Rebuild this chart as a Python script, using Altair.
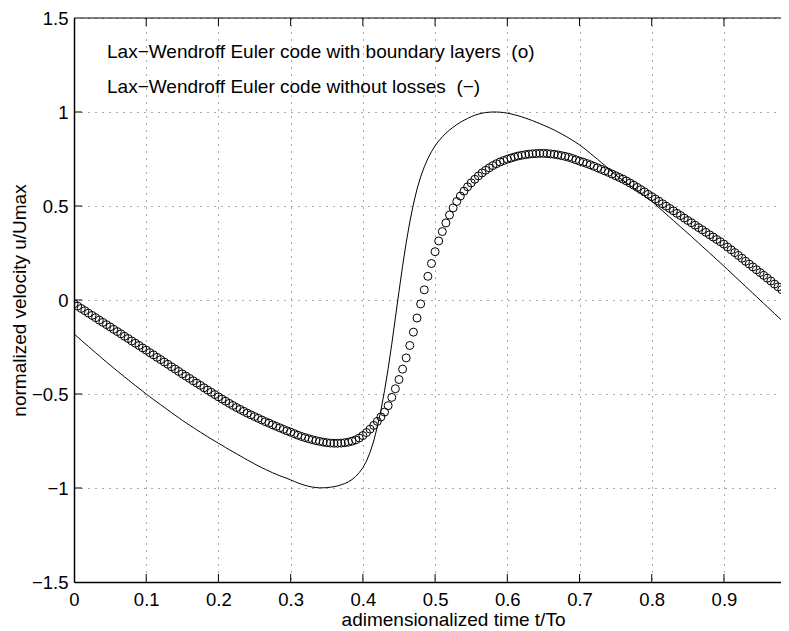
import altair as alt
import pandas as pd

# time samples t/To
t = [
    0.000, 0.005, 0.010, 0.015, 0.020, 0.025, 0.030, 0.035, 0.040, 0.045,
    0.050, 0.055, 0.060, 0.065, 0.070, 0.075, 0.080, 0.085, 0.090, 0.095,
    0.100, 0.105, 0.110, 0.115, 0.120, 0.125, 0.130, 0.135, 0.140, 0.145,
    0.150, 0.155, 0.160, 0.165, 0.170, 0.175, 0.180, 0.185, 0.190, 0.195,
    0.200, 0.205, 0.210, 0.215, 0.220, 0.225, 0.230, 0.235, 0.240, 0.245,
    0.250, 0.255, 0.260, 0.265, 0.270, 0.275, 0.280, 0.285, 0.290, 0.295,
    0.300, 0.305, 0.310, 0.315, 0.320, 0.325, 0.330, 0.335, 0.340, 0.345,
    0.350, 0.355, 0.360, 0.365, 0.370, 0.375, 0.380, 0.385, 0.390, 0.395,
    0.400, 0.405, 0.410, 0.415, 0.420, 0.425, 0.430, 0.435, 0.440, 0.445,
    0.450, 0.455, 0.460, 0.465, 0.470, 0.475, 0.480, 0.485, 0.490, 0.495,
    0.500, 0.505, 0.510, 0.515, 0.520, 0.525, 0.530, 0.535, 0.540, 0.545,
    0.550, 0.555, 0.560, 0.565, 0.570, 0.575, 0.580, 0.585, 0.590, 0.595,
    0.600, 0.605, 0.610, 0.615, 0.620, 0.625, 0.630, 0.635, 0.640, 0.645,
    0.650, 0.655, 0.660, 0.665, 0.670, 0.675, 0.680, 0.685, 0.690, 0.695,
    0.700, 0.705, 0.710, 0.715, 0.720, 0.725, 0.730, 0.735, 0.740, 0.745,
    0.750, 0.755, 0.760, 0.765, 0.770, 0.775, 0.780, 0.785, 0.790, 0.795,
    0.800, 0.805, 0.810, 0.815, 0.820, 0.825, 0.830, 0.835, 0.840, 0.845,
    0.850, 0.855, 0.860, 0.865, 0.870, 0.875, 0.880, 0.885, 0.890, 0.895,
    0.900, 0.905, 0.910, 0.915, 0.920, 0.925, 0.930, 0.935, 0.940, 0.945,
    0.950, 0.955, 0.960, 0.965, 0.970, 0.975, 0.980, 0.985,
]

# Lax-Wendroff Euler code with boundary layers (circles)
u_bl = [
    -0.020, -0.032, -0.045, -0.057, -0.070, -0.082, -0.094, -0.107, -0.119, -0.131,
    -0.143, -0.156, -0.168, -0.180, -0.193, -0.205, -0.218, -0.230, -0.242, -0.255,
    -0.267, -0.280, -0.292, -0.305, -0.317, -0.330, -0.342, -0.355, -0.367, -0.380,
    -0.393, -0.405, -0.417, -0.430, -0.442, -0.454, -0.467, -0.479, -0.491, -0.503,
    -0.515, -0.527, -0.538, -0.550, -0.561, -0.572, -0.582, -0.592, -0.602, -0.611,
    -0.620, -0.629, -0.638, -0.647, -0.655, -0.664, -0.672, -0.680, -0.688, -0.696,
    -0.703, -0.711, -0.719, -0.726, -0.732, -0.738, -0.743, -0.748, -0.752, -0.756,
    -0.759, -0.761, -0.762, -0.762, -0.761, -0.759, -0.756, -0.751, -0.744, -0.734,
    -0.721, -0.705, -0.687, -0.667, -0.646, -0.622, -0.596, -0.562, -0.518, -0.472,
    -0.423, -0.368, -0.308, -0.242, -0.171, -0.096, -0.021, 0.054, 0.126, 0.194,
    0.257, 0.314, 0.364, 0.410, 0.452, 0.490, 0.524, 0.553, 0.579, 0.602,
    0.623, 0.642, 0.660, 0.676, 0.690, 0.703, 0.715, 0.725, 0.734, 0.742,
    0.749, 0.755, 0.761, 0.766, 0.770, 0.773, 0.776, 0.778, 0.779, 0.780,
    0.780, 0.779, 0.777, 0.775, 0.772, 0.768, 0.764, 0.759, 0.753, 0.746,
    0.739, 0.733, 0.726, 0.719, 0.711, 0.703, 0.695, 0.687, 0.679, 0.670,
    0.661, 0.652, 0.643, 0.633, 0.622, 0.611, 0.599, 0.587, 0.575, 0.562,
    0.550, 0.537, 0.525, 0.512, 0.499, 0.487, 0.474, 0.461, 0.449, 0.436,
    0.423, 0.411, 0.398, 0.385, 0.373, 0.360, 0.347, 0.335, 0.322, 0.310,
    0.297, 0.282, 0.267, 0.252, 0.237, 0.222, 0.206, 0.191, 0.176, 0.161,
    0.146, 0.131, 0.116, 0.101, 0.085, 0.070, 0.055, 0.040,
]

# Lax-Wendroff Euler code without losses (solid line)
u_ll = [
    -0.180, -0.197, -0.214, -0.231, -0.247, -0.264, -0.281, -0.297, -0.314, -0.330,
    -0.346, -0.362, -0.378, -0.393, -0.409, -0.424, -0.440, -0.455, -0.470, -0.485,
    -0.500, -0.515, -0.529, -0.543, -0.557, -0.571, -0.585, -0.599, -0.613, -0.626,
    -0.640, -0.653, -0.666, -0.678, -0.691, -0.703, -0.715, -0.727, -0.739, -0.750,
    -0.762, -0.773, -0.785, -0.796, -0.807, -0.818, -0.829, -0.840, -0.851, -0.861,
    -0.872, -0.882, -0.892, -0.901, -0.910, -0.919, -0.927, -0.935, -0.942, -0.949,
    -0.957, -0.965, -0.973, -0.980, -0.986, -0.991, -0.995, -0.998, -0.999, -0.999,
    -0.998, -0.996, -0.993, -0.989, -0.983, -0.976, -0.967, -0.955, -0.939, -0.918,
    -0.892, -0.857, -0.810, -0.750, -0.675, -0.587, -0.483, -0.365, -0.235, -0.095,
    0.045, 0.180, 0.305, 0.415, 0.510, 0.590, 0.655, 0.708, 0.752, 0.789,
    0.820, 0.846, 0.868, 0.887, 0.904, 0.919, 0.933, 0.945, 0.956, 0.966,
    0.975, 0.983, 0.989, 0.994, 0.997, 0.999, 1.000, 1.000, 0.999, 0.997,
    0.994, 0.990, 0.985, 0.980, 0.974, 0.968, 0.961, 0.954, 0.946, 0.938,
    0.930, 0.922, 0.913, 0.904, 0.894, 0.884, 0.873, 0.862, 0.850, 0.838,
    0.825, 0.811, 0.796, 0.780, 0.764, 0.748, 0.732, 0.716, 0.699, 0.682,
    0.665, 0.651, 0.637, 0.623, 0.609, 0.595, 0.581, 0.567, 0.553, 0.539,
    0.525, 0.508, 0.491, 0.474, 0.457, 0.440, 0.423, 0.406, 0.389, 0.372,
    0.355, 0.338, 0.320, 0.303, 0.285, 0.268, 0.250, 0.233, 0.215, 0.198,
    0.180, 0.162, 0.144, 0.126, 0.108, 0.090, 0.072, 0.054, 0.036, 0.018,
    0.000, -0.018, -0.036, -0.054, -0.072, -0.090, -0.108, -0.126,
]

x_ticks = [0, 0.1, 0.2, 0.3, 0.4, 0.5, 0.6, 0.7, 0.8, 0.9]
y_ticks = [-1.5, -1, -0.5, 0, 0.5, 1, 1.5]
x_domain = [0, 0.979]
y_domain = [-1.5, 1.5]

ann_t = [0.0457, 0.0457]
ann_u = [1.285, 1.103]
ann_text = [
    "Lax\u2212Wendroff Euler code with boundary layers\u00a0\u00a0(o)",
    "Lax\u2212Wendroff Euler code without losses\u00a0\u00a0(\u2212)",
]

W, H = 707, 564
FONT = "Liberation Sans"
FS = 19
FS_TICK = 18.5

df = pd.DataFrame({"t": t, "u_bl": u_bl, "u_ll": u_ll})
xt_df = pd.DataFrame({"xt": x_ticks[1:]})
yt_df = pd.DataFrame({"yt": y_ticks[1:-1]})
ann_df = pd.DataFrame({"t": ann_t, "u": ann_u, "text": ann_text})
top_df = pd.DataFrame({"b": [y_domain[1]]})

xs = alt.Scale(domain=x_domain, nice=False, zero=False)
ys = alt.Scale(domain=y_domain, nice=False, zero=False)

x_axis = alt.Axis(
    values=x_ticks, format="~g", title="adimensionalized time t/To",
    grid=True, gridColor="#555", gridDash=[1, 6], gridWidth=1,
    ticks=False, tickSize=0, labelPadding=23, labelBaseline="alphabetic",
    labelFlush=False, labelOverlap=False,
    labelFont=FONT, labelFontSize=FS_TICK, labelColor="black",
    titleFont=FONT, titleFontSize=FS, titleFontWeight="normal", titleColor="black",
    titleX=379, titleY=43, titleAlign="center", titleBaseline="alphabetic",
    domainColor="black", domainWidth=1.5,
)
y_axis = alt.Axis(
    values=y_ticks, format="~g", title="normalized velocity u/Umax",
    grid=True, gridColor="#555", gridDash=[1, 6], gridWidth=1,
    ticks=False, tickSize=0, labelPadding=6, labelAlign="right", labelBaseline="middle",
    labelFlush=False, labelOverlap=False,
    labelFont=FONT, labelFontSize=FS_TICK, labelColor="black",
    titleFont=FONT, titleFontSize=FS, titleFontWeight="normal", titleColor="black",
    titleX=-49, titleY=H / 2, titleAngle=270, titleAlign="center", titleBaseline="alphabetic",
    domainColor="black", domainWidth=1.5,
)

X = lambda f: alt.X(f, scale=xs, axis=x_axis)
Y = lambda f: alt.Y(f, scale=ys, axis=y_axis)

line = alt.Chart(df).mark_line(color="black", strokeWidth=1, clip=True).encode(
    x=X("t:Q"), y=Y("u_ll:Q"),
)
pts = alt.Chart(df).mark_point(
    shape="circle", filled=False, color="black", size=64, strokeWidth=1, clip=True, opacity=1
).encode(
    x=X("t:Q"), y=Y("u_bl:Q"),
)
top_border = alt.Chart(top_df).mark_rule(color="black", strokeWidth=1).encode(
    y=Y("b:Q")
)
bottom_ticks = alt.Chart(xt_df).mark_rule(color="black", strokeWidth=1).encode(
    x=X("xt:Q"), y=alt.value(H), y2=alt.value(H - 8)
)
top_ticks = alt.Chart(xt_df).mark_rule(color="black", strokeWidth=1).encode(
    x=X("xt:Q"), y=alt.value(0), y2=alt.value(8)
)
left_ticks = alt.Chart(yt_df).mark_rule(color="black", strokeWidth=1).encode(
    y=Y("yt:Q"), x=alt.value(0), x2=alt.value(8)
)
ann = alt.Chart(ann_df).mark_text(
    align="left", baseline="alphabetic", font=FONT, fontSize=FS, color="black"
).encode(
    x=X("t:Q"), y=Y("u:Q"),
    text="text:N",
)

chart = alt.layer(
    line, pts, top_border, bottom_ticks, top_ticks, left_ticks, ann
).properties(
    width=W, height=H,
    autosize=alt.AutoSizeParams(type="none"),
    padding={"left": 66, "top": 10, "right": 0, "bottom": 48},
    background="white",
).configure_view(stroke=None)

chart.save("out.html", embed_options={"renderer": "svg", "actions": False})
